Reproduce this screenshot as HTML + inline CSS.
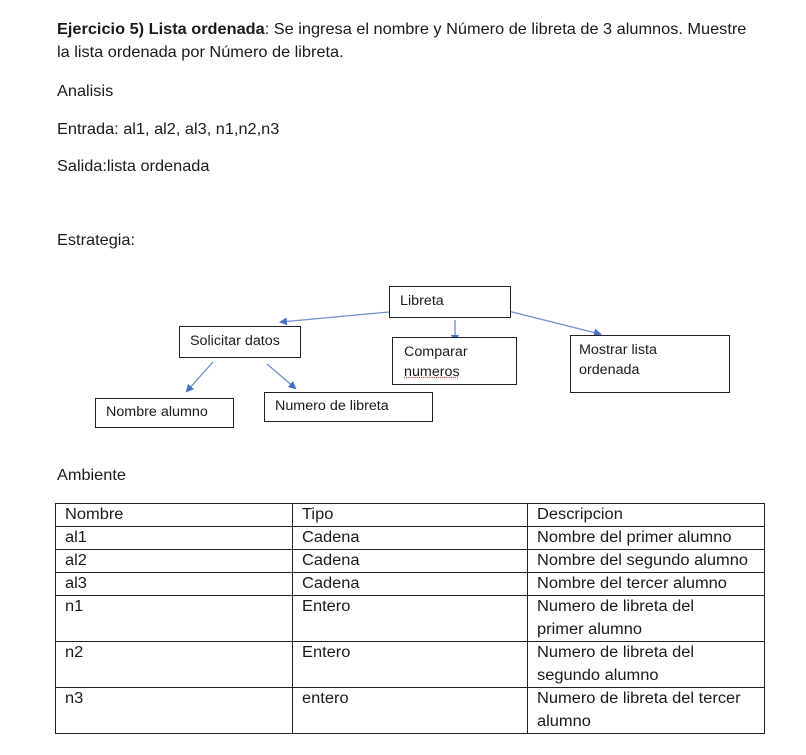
<!DOCTYPE html>
<html><head><meta charset="utf-8"><style>
body{margin:0;width:806px;height:755px;background:#fff;position:relative;overflow:hidden;font-family:"Liberation Sans",sans-serif;color:#1a1a1a}
.t{position:absolute;white-space:nowrap;font-size:16px;line-height:18px;transform-origin:0 50%;transform:scaleX(1.02)}
.b{position:absolute;border:1px solid #222;box-sizing:border-box;background:#fff}
.bt{position:absolute;white-space:nowrap;font-size:13.5px;line-height:20px;transform-origin:0 50%;transform:scaleX(1.06)}
table{position:absolute;left:55px;top:503px;border-collapse:collapse;font-size:15.5px;table-layout:fixed;width:709px}
td{border:1px solid #222;padding:0 0 0 9px;vertical-align:top;line-height:22px;height:22px;overflow:visible}
td span{display:inline-block;white-space:nowrap;transform-origin:0 50%;transform:scaleX(1.06)}
tr.m td{height:45px;line-height:22.5px}
</style></head><body>
<div class="t" style="left:57px;top:21px"><b>Ejercicio 5) Lista ordenada</b>: Se ingresa el nombre y Número de libreta de 3 alumnos. Muestre</div>
<div class="t" style="left:57px;top:44px">la lista ordenada por Número de libreta.</div>
<div class="t" style="left:57px;top:83px">Analisis</div>
<div class="t" style="left:57px;top:121px">Entrada: al1, al2, al3, n1,n2,n3</div>
<div class="t" style="left:57px;top:158px">Salida:lista ordenada</div>
<div class="t" style="left:57px;top:232px">Estrategia:</div>
<div class="t" style="left:57px;top:467px">Ambiente</div>

<svg style="position:absolute;left:0;top:0" width="806" height="460">
<defs><marker id="a" markerWidth="8" markerHeight="8" refX="6" refY="4" orient="auto" markerUnits="userSpaceOnUse"><path d="M0,0 L8,4 L0,8 z" fill="#4472c4"/></marker></defs>
<g stroke="#6d8fd0" stroke-width="1.3" fill="none">
<line x1="389" y1="312" x2="281" y2="322" marker-end="url(#a)"/>
<line x1="455" y1="320" x2="455" y2="341" marker-end="url(#a)"/>
<line x1="508" y1="311" x2="600" y2="334" marker-end="url(#a)"/>
<line x1="213" y1="362" x2="187" y2="391" marker-end="url(#a)"/>
<line x1="267" y1="364" x2="295" y2="388" marker-end="url(#a)"/>
</g>
</svg>
<div class="b" style="left:389px;top:286px;width:122px;height:32px"></div><div class="bt" style="left:400px;top:291px">Libreta</div>
<div class="b" style="left:179px;top:326px;width:122px;height:32px"></div><div class="bt" style="left:190px;top:331px">Solicitar datos</div>
<div class="b" style="left:392px;top:337px;width:125px;height:48px"></div><div class="bt" style="left:404px;top:342px">Comparar</div><div class="bt" style="left:404px;top:362px;text-decoration:underline dotted #c33">numeros</div>
<div class="b" style="left:570px;top:335px;width:160px;height:58px"></div><div class="bt" style="left:579px;top:340px">Mostrar lista</div><div class="bt" style="left:579px;top:360px">ordenada</div>
<div class="b" style="left:95px;top:398px;width:139px;height:30px"></div><div class="bt" style="left:106px;top:402px">Nombre alumno</div>
<div class="b" style="left:264px;top:392px;width:169px;height:30px"></div><div class="bt" style="left:275px;top:396px">Numero de libreta</div>

<table>
<colgroup><col style="width:237px"><col style="width:235px"><col style="width:237px"></colgroup>
<tr><td><span>Nombre</span></td><td><span>Tipo</span></td><td><span>Descripcion</span></td></tr>
<tr><td><span>al1</span></td><td><span>Cadena</span></td><td><span>Nombre del primer alumno</span></td></tr>
<tr><td><span>al2</span></td><td><span>Cadena</span></td><td><span>Nombre del segundo alumno</span></td></tr>
<tr><td><span>al3</span></td><td><span>Cadena</span></td><td><span>Nombre del tercer alumno</span></td></tr>
<tr class="m"><td><span>n1</span></td><td><span>Entero</span></td><td><span>Numero de libreta del</span><br><span>primer alumno</span></td></tr>
<tr class="m"><td><span>n2</span></td><td><span>Entero</span></td><td><span>Numero de libreta del</span><br><span>segundo alumno</span></td></tr>
<tr class="m"><td><span>n3</span></td><td><span>entero</span></td><td><span>Numero de libreta del tercer</span><br><span>alumno</span></td></tr>
</table>
</body></html>
